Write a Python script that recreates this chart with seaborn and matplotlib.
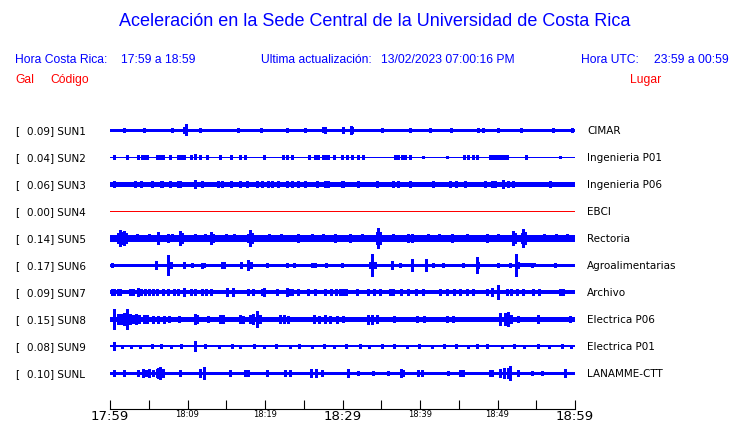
import numpy as np
import pandas as pd
import matplotlib
matplotlib.use("Agg")
import matplotlib.pyplot as plt
import seaborn as sns

# station info
codes = ["SUN1", "SUN2", "SUN3", "SUN4", "SUN5", "SUN6", "SUN7", "SUN8", "SUN9", "SUNL"]
places = ["CIMAR", "Ingenieria P01", "Ingenieria P06", "EBCI", "Rectoria",
          "Agroalimentarias", "Archivo", "Electrica P06", "Electrica P01", "LANAMME-CTT"]
gal = [0.09, 0.04, 0.06, 0.00, 0.14, 0.17, 0.09, 0.15, 0.08, 0.10]

# time axis (minutes after 17:59)
tick_minutes = [0, 10, 20, 30, 40, 50, 60]
tick_labels = ["17:59", "18:09", "18:19", "18:29", "18:39", "18:49", "18:59"]
big_labels = ["17:59", "18:29", "18:59"]

# background noise half amplitude of every trace (screen units, 27 per row)
base_amp = [1.5, 0.5, 1.7, 0.5, 2.7, 1.3, 2.0, 2.3, 0.8, 1.3]

# bursts read from the records: (minute, half amplitude)
sun1_spikes = [(1.8, 2), (4.4, 2), (7.96, 2), (9.55, 3), (9.76, 5.5), (11.6, 2), (16.56, 2),
               (19.5, 2.2), (22.8, 2), (25.2, 2), (27.53, 2.5), (27.74, 3.3), (30.0, 3.3),
               (31.1, 4.3), (31.19, 3), (35.06, 2), (38.7, 2), (41.3, 2), (44.0, 2),
               (47.53, 2.3), (48.17, 2), (50.0, 2), (53.0, 2), (57.21, 2), (59.57, 1.7)]
sun2_spikes = [(0.56, 1.8), (2.15, 1.6), (3.66, 1.6), (4.09, 1.8), (4.4, 1.8), (4.73, 1.8),
               (6.0, 1.8), (6.3, 1.8), (6.6, 1.8), (6.88, 1.6), (7.74, 1.8), (8.8, 1.8),
               (9.1, 1.8), (9.5, 1.8), (10.5, 1.6), (10.97, 2.5), (11.61, 1.8), (12.47, 1.6),
               (14.2, 1.6), (15.61, 1.6), (16.77, 1.6), (17.42, 1.8), (19.91, 1.6),
               (22.37, 1.8), (22.8, 1.8), (23.44, 1.6), (25.68, 1.6), (26.45, 1.6),
               (26.88, 1.6), (27.53, 1.8), (27.87, 1.8), (28.17, 1.8), (28.9, 1.6),
               (29.9, 1.6), (30.54, 1.6), (31.19, 1.6), (32.05, 1.6), (32.6, 1.6),
               (36.78, 1.8), (37.21, 1.8), (37.64, 1.6), (38.07, 1.6), (38.71, 1.6),
               (40.43, 1.4), (43.44, 1.4), (45.68, 1.6), (46.24, 1.6), (46.8, 1.6),
               (47.31, 1.6), (49.04, 1.8), (49.4, 1.8), (49.8, 1.8), (50.1, 1.8),
               (50.5, 1.8), (50.8, 1.8), (51.2, 1.8), (53.68, 1.6), (58.07, 1.4)]
sun3_spikes = [(0.56, 3.3), (3.23, 3), (4.0, 3), (5.38, 3), (6.58, 3.3), (6.75, 3), (7.74, 3),
               (8.73, 3), (9.03, 3), (10.97, 4), (11.83, 3), (13.98, 3), (14.41, 3),
               (15.61, 3), (16.77, 3), (17.64, 3), (18.92, 3), (19.57, 3), (20.34, 3),
               (20.86, 3), (21.72, 3), (22.8, 3), (23.44, 3), (24.21, 3), (25.16, 3),
               (26.67, 3), (27.74, 3), (28.17, 3), (29.89, 3), (30.11, 3), (32.05, 3),
               (34.41, 3), (36.56, 3), (37.21, 3), (38.71, 3), (41.72, 3), (43.87, 3),
               (44.65, 3), (45.81, 3), (48.39, 3), (49.25, 3), (49.68, 3), (50.75, 4),
               (51.4, 3), (52.05, 3), (56.78, 3)]
sun4_spikes = []
sun5_spikes = [(1.0, 5), (1.29, 8), (1.5, 6), (1.81, 7), (2.1, 5), (3.5, 3.5), (5.0, 3.5),
               (6.24, 6), (7.53, 4), (8.0, 3.5), (9.03, 7), (9.3, 5), (11.0, 3.5),
               (12.2, 3.5), (13.03, 6), (13.3, 4), (15.0, 3.5), (16.0, 3.5), (17.8, 4),
               (18.06, 8), (18.3, 5), (20.5, 3.5), (22.0, 3.5), (24.21, 4), (26.0, 3.5),
               (27.5, 3.5), (29.03, 4), (30.97, 4), (32.5, 3.5), (34.41, 6), (34.63, 10),
               (34.9, 6), (36.5, 3.5), (38.5, 4), (39.0, 4), (41.0, 3.5), (42.5, 3.5),
               (44.09, 4), (46.0, 3.5), (48.6, 4), (50.0, 3.5), (52.05, 7), (52.3, 5),
               (53.1, 5), (53.34, 9), (53.5, 6), (56.0, 3.5), (57.5, 3.5), (59.0, 3.5)]
sun6_spikes = [(0.22, 2), (1.81, 1.5), (3.66, 1.5), (5.89, 4), (7.53, 9.5), (7.87, 3),
               (9.55, 3), (10.62, 2), (11.83, 2.5), (12.17, 2), (14.41, 3), (14.7, 3),
               (16.9, 3), (17.85, 5), (18.2, 3), (20.21, 2), (22.88, 2), (23.74, 2),
               (26.02, 2), (26.45, 2), (27.87, 2), (29.89, 2), (33.5, 3), (33.77, 11),
               (34.2, 3), (36.35, 4), (37.42, 2), (39.01, 6), (40.73, 6), (41.72, 2),
               (43.01, 2), (45.59, 2), (47.31, 8), (47.5, 3), (50.11, 2), (51.62, 2),
               (52.39, 11), (52.6, 3), (54.41, 2), (57.42, 2)]
sun7_spikes = [(0.22, 3), (0.5, 3), (1.0, 3), (1.29, 3), (2.6, 3), (3.0, 3), (3.66, 4),
               (4.0, 3), (4.5, 3), (5.0, 3), (5.5, 3), (6.0, 3), (6.88, 3), (7.5, 3),
               (8.2, 3), (8.73, 3), (9.55, 4), (10.5, 3), (10.97, 3), (11.9, 3), (12.4, 3),
               (13.0, 3), (15.05, 4), (15.91, 4), (17.85, 3), (18.49, 3), (19.57, 3),
               (19.91, 4), (21.5, 3), (22.8, 4), (23.2, 3), (23.44, 3), (24.3, 3),
               (25.59, 3), (26.45, 3), (27.74, 3), (28.5, 3), (29.2, 3), (29.68, 3),
               (30.0, 3), (30.5, 3), (31.9, 3), (33.34, 3), (34.0, 3), (34.8, 3),
               (36.13, 3), (36.56, 3), (37.5, 3), (38.5, 3), (39.5, 3), (40.43, 3),
               (42.58, 3), (43.5, 3), (44.4, 3), (45.2, 3), (46.0, 3), (46.8, 3),
               (48.6, 3), (49.25, 4), (50.11, 7), (51.19, 3), (51.8, 3), (52.5, 3),
               (53.34, 3), (54.63, 3), (55.3, 3), (58.07, 3), (58.5, 3)]
sun8_spikes = [(0.56, 10), (1.0, 5), (1.4, 5), (1.8, 6), (2.15, 10), (2.6, 5), (3.0, 4),
               (3.4, 5), (3.8, 4), (4.4, 4), (4.8, 4), (5.5, 3.5), (6.2, 3.5), (7.0, 3.5),
               (7.6, 3), (8.9, 3), (10.97, 5), (11.2, 4), (12.6, 3), (14.2, 4), (14.6, 4),
               (16.77, 4), (17.2, 3.5), (18.0, 4), (18.5, 5), (18.92, 8), (19.3, 4),
               (21.9, 4), (22.5, 4), (23.0, 3.5), (26.3, 4), (27.0, 3.5), (27.7, 4),
               (28.4, 3.5), (29.3, 3.5), (30.0, 3), (33.3, 4.5), (33.8, 4.5), (34.4, 4),
               (36.6, 3), (39.6, 3), (40.5, 3), (43.5, 3), (44.2, 3), (50.3, 6), (51.0, 6),
               (51.4, 7), (51.8, 4), (52.6, 3), (55.27, 4), (59.36, 3)]
sun9_spikes = [(0.56, 4), (1.5, 1.5), (2.7, 1.5), (3.9, 1.5), (5.4, 2), (6.6, 2), (7.9, 1.5),
               (9.2, 2), (10.97, 5), (12.3, 2), (14.1, 1.5), (15.7, 2), (16.8, 1.5),
               (18.6, 2), (19.9, 1.5), (21.4, 2), (23.2, 1.5), (24.4, 2), (26.1, 1.5),
               (27.6, 2), (28.9, 1.5), (30.4, 2), (32.2, 2), (33.4, 1.5), (35.1, 2),
               (36.6, 2), (38.3, 1.5), (39.9, 2), (41.6, 1.5), (43.1, 2), (44.6, 2),
               (46.2, 1.5), (47.4, 2), (48.7, 2), (50.6, 1.5), (52.1, 2), (53.4, 1.5),
               (55.2, 2), (56.7, 1.5), (58.3, 2), (59.5, 1.5)]
sunl_spikes = [(0.56, 2.5), (1.81, 3), (3.66, 3), (4.2, 4), (4.6, 3), (5.0, 4), (5.5, 3),
               (6.0, 4), (6.24, 5), (6.5, 6), (6.9, 4), (9.03, 3), (11.61, 4), (12.17, 6),
               (15.48, 2.5), (17.42, 2.5), (17.85, 2.5), (20.21, 2.5), (22.6, 2.5),
               (23.2, 2.5), (25.9, 4), (26.6, 4), (27.3, 3), (30.76, 4), (32.05, 2),
               (33.98, 2), (35.92, 2), (37.5, 4), (37.8, 3), (39.79, 3), (40.2, 3),
               (43.66, 2), (45.2, 3), (45.6, 3), (49.04, 3), (49.3, 3), (50.3, 4),
               (50.8, 5), (51.4, 5), (51.62, 7), (52.69, 3), (54.41, 2), (55.7, 2),
               (58.71, 4)]
spikes = [sun1_spikes, sun2_spikes, sun3_spikes, sun4_spikes, sun5_spikes,
          sun6_spikes, sun7_spikes, sun8_spikes, sun9_spikes, sunl_spikes]

# stretches where the noise is a bit stronger: (station index, from, to, half amplitude)
thick_parts = [(2, 52.0, 60.0, 2.2), (8, 0.0, 4.7, 1.3), (5, 52.5, 55.0, 1.8)]

BLUE = "#0000ff"
RED = "#ff0000"
W, H = 740, 423
ROW = 27.0  # screen units per row

sns.set_style("white")
plt.rcParams["font.family"] = ["DejaVu Sans"]

fig = plt.figure(figsize=(W / 100, H / 100), dpi=100)


def fx(x):
    return x / W


def fy(y):
    return 1 - y / H


# trace axes: left edge 110 px, right 575 px, top 115 px, bottom (time line) 409 px
ax = fig.add_axes([fx(110), fy(409), (575 - 110) / W, (409 - 115) / H])

# background traces via seaborn
base_df = pd.DataFrame({
    "minute": [0, 60] * len(codes),
    "row": np.repeat(np.arange(len(codes)), 2),
    "station": np.repeat(codes, 2),
})
lw_map = {c: max(2 * b, 1.0) * 0.72 for c, b in zip(codes, base_amp)}
col_map = {c: (RED if g == 0 else BLUE) for c, g in zip(codes, gal)}
sns.lineplot(data=base_df, x="minute", y="row", hue="station", size="station",
             palette=col_map, sizes=lw_map, estimator=None, units="station",
             legend=False, ax=ax, antialiased=False)

for i, t0, t1, a in thick_parts:
    ax.fill_between([t0, t1], i - a / ROW, i + a / ROW, color=BLUE, lw=0)

for i, sp in enumerate(spikes):
    if not sp:
        continue
    t = [s[0] for s in sp]
    a = np.array([s[1] for s in sp]) / ROW
    ax.vlines(t, i - a, i + a, colors=BLUE, lw=1.0, antialiased=False)

ax.set_xlim(0, 60)
ax.set_ylim((409 - 130) / ROW, (115 - 130) / ROW)
for s in ["top", "left", "right"]:
    ax.spines[s].set_visible(False)
ax.spines["bottom"].set_color("black")
ax.spines["bottom"].set_linewidth(0.8)
ax.set_yticks([])
ax.set_xlabel("")
ax.set_ylabel("")
ax.set_xticks(tick_minutes, tick_labels)
ax.set_xticks([5, 15, 25, 35, 45, 55], minor=True)
ax.tick_params(axis="x", which="both", bottom=True, direction="in", length=6.5,
               width=0.8, color="black", pad=1)
for lab in ax.get_xticklabels():
    lab.set_fontsize(9.5 if lab.get_text() in big_labels else 6)
    lab.set_color("black")

# header texts
fig.text(fx(375), fy(22), "Aceleración en la Sede Central de la Universidad de Costa Rica",
         ha="center", va="center", color=BLUE, fontsize=13.0, family="Liberation Sans")
hdr = dict(va="center", color=BLUE, fontsize=8.7, family="Liberation Sans")
fig.text(fx(15), fy(60), "Hora Costa Rica:", **hdr)
fig.text(fx(121), fy(60), "17:59 a 18:59", **hdr)
fig.text(fx(261), fy(60), "Ultima actualización:", **hdr)
fig.text(fx(381), fy(60), "13/02/2023 07:00:16 PM", **hdr)
fig.text(fx(581), fy(60), "Hora UTC:", **hdr)
fig.text(fx(654), fy(60), "23:59 a 00:59", **hdr)
red = dict(va="center", color=RED, fontsize=8.7, family="Liberation Sans")
fig.text(fx(15), fy(80), "Gal", **red)
fig.text(fx(50), fy(80), "Código", **red)
fig.text(fx(630), fy(80), "Lugar", **red)

# station labels
for i, (c, p, g) in enumerate(zip(codes, places, gal)):
    yb = 130 + ROW * i + 3.6
    fig.text(fx(15), fy(yb), "[", va="baseline", fontsize=7.5, color="black")
    fig.text(fx(27.3), fy(yb), f"{g:.2f}] {c}", va="baseline", fontsize=7.5, color="black")
    fig.text(fx(587.3), fy(yb), p, va="baseline", fontsize=7.5, color="black")

fig.savefig("out.png", dpi=100)
